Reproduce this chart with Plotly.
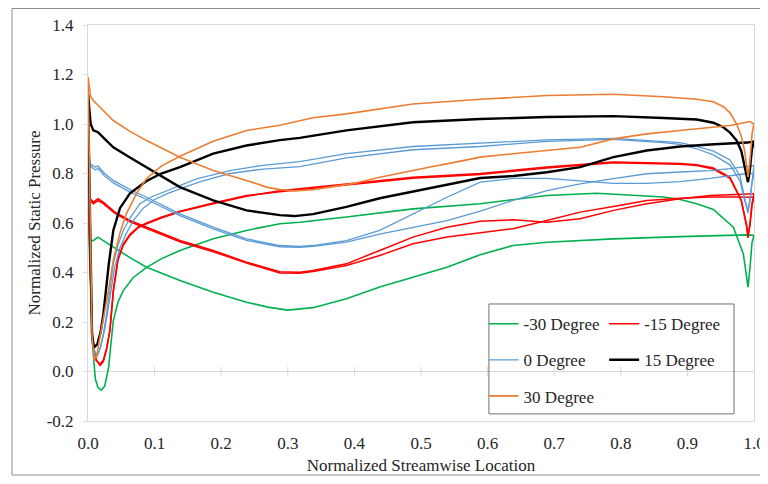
import plotly.graph_objects as go

# ---------------- data ----------------
x_ticks = [0.0, 0.1, 0.2, 0.3, 0.4, 0.5, 0.6, 0.7, 0.8, 0.9, 1.0]
y_ticks = [-0.2, 0.0, 0.2, 0.4, 0.6, 0.8, 1.0, 1.2, 1.4]
series_names = ["-30 Degree", "-15 Degree", "0 Degree", "15 Degree", "30 Degree"]

# -30 Degree
x_m30_p = [0.000, 0.003, 0.008, 0.015, 0.023, 0.038, 0.063, 0.088, 0.138, 0.188, 0.238, 0.270, 0.288, 0.300,
           0.338, 0.388, 0.438, 0.488, 0.539, 0.589, 0.638, 0.689, 0.789, 0.889, 0.934, 0.990, 1.000]
y_m30_p = [0.72, 0.53, 0.529, 0.543, 0.529, 0.502, 0.46, 0.421, 0.368, 0.320, 0.28, 0.26, 0.253, 0.248,
           0.258, 0.294, 0.341, 0.381, 0.421, 0.472, 0.509, 0.522, 0.536, 0.545, 0.549, 0.552, 0.55]
x_m30_s = [0.000, 0.003, 0.007, 0.011, 0.015, 0.020, 0.025, 0.029, 0.031, 0.034, 0.038, 0.045, 0.053, 0.068,
           0.088, 0.110, 0.138, 0.188, 0.238, 0.288, 0.318, 0.388, 0.488, 0.589, 0.689, 0.764, 0.839, 0.864,
           0.889, 0.914, 0.939, 0.969, 0.984, 0.991, 0.994, 0.997, 1.000]
y_m30_s = [0.72, 0.40, 0.10, -0.03, -0.065, -0.075, -0.06, -0.01, 0.017, 0.10, 0.206, 0.28, 0.327, 0.38,
           0.421, 0.455, 0.489, 0.536, 0.570, 0.597, 0.603, 0.624, 0.657, 0.678, 0.711, 0.72, 0.711, 0.705,
           0.695, 0.678, 0.655, 0.583, 0.475, 0.341, 0.42, 0.52, 0.55]

# -15 Degree
x_m15_pa = [0.000, 0.003, 0.008, 0.015, 0.023, 0.040, 0.063, 0.088, 0.138, 0.188, 0.238, 0.288, 0.318, 0.338,
            0.388, 0.438, 0.488, 0.539, 0.589, 0.638, 0.689, 0.739, 0.789, 0.839, 0.889, 0.934, 0.964, 0.990, 1.000]
y_m15_pa = [0.83, 0.70, 0.684, 0.698, 0.684, 0.645, 0.61, 0.583, 0.529, 0.489, 0.442, 0.403, 0.401, 0.408,
            0.435, 0.489, 0.543, 0.583, 0.607, 0.613, 0.603, 0.617, 0.651, 0.678, 0.698, 0.711, 0.715, 0.718, 0.718]
x_m15_pb = [0.000, 0.003, 0.008, 0.015, 0.023, 0.040, 0.063, 0.088, 0.138, 0.188, 0.238, 0.288, 0.318, 0.338,
            0.388, 0.438, 0.488, 0.539, 0.589, 0.638, 0.689, 0.739, 0.789, 0.839, 0.889, 0.934, 0.964, 0.990, 1.000]
y_m15_pb = [0.83, 0.69, 0.678, 0.69, 0.678, 0.64, 0.605, 0.578, 0.524, 0.484, 0.438, 0.398, 0.397, 0.404,
            0.428, 0.469, 0.516, 0.543, 0.56, 0.577, 0.61, 0.644, 0.667, 0.691, 0.70, 0.705, 0.705, 0.704, 0.704]
x_m15_sa = [0.000, 0.003, 0.007, 0.012, 0.018, 0.023, 0.028, 0.033, 0.038, 0.045, 0.053, 0.063, 0.075, 0.088,
            0.110, 0.138, 0.188, 0.238, 0.288, 0.318, 0.388, 0.488, 0.589, 0.689, 0.789, 0.864, 0.889, 0.914,
            0.939, 0.964, 0.981, 0.989, 0.991, 0.994, 0.997, 1.000]
y_m15_sa = [0.83, 0.45, 0.12, 0.05, 0.024, 0.04, 0.09, 0.166, 0.32, 0.45, 0.51, 0.55, 0.58, 0.597,
            0.62, 0.645, 0.678, 0.708, 0.73, 0.738, 0.758, 0.785, 0.80, 0.826, 0.846, 0.843, 0.84, 0.835,
            0.822, 0.785, 0.691, 0.583, 0.54, 0.60, 0.68, 0.718]
x_m15_sb = [0.000, 0.003, 0.007, 0.012, 0.018, 0.023, 0.028, 0.033, 0.038, 0.045, 0.053, 0.063, 0.075, 0.088,
            0.110, 0.138, 0.188, 0.238, 0.288, 0.318, 0.388, 0.488, 0.589, 0.689, 0.789, 0.864, 0.889, 0.914,
            0.939, 0.964, 0.981, 0.989, 0.991, 0.994, 0.997, 1.000]
y_m15_sb = [0.83, 0.44, 0.11, 0.045, 0.03, 0.045, 0.095, 0.17, 0.33, 0.455, 0.515, 0.555, 0.583, 0.60,
            0.623, 0.648, 0.681, 0.711, 0.726, 0.734, 0.754, 0.781, 0.796, 0.822, 0.843, 0.84, 0.837, 0.832,
            0.818, 0.78, 0.69, 0.59, 0.55, 0.59, 0.67, 0.704]

# 0 Degree
x_0_pa = [0.000, 0.003, 0.008, 0.011, 0.015, 0.025, 0.038, 0.063, 0.088, 0.138, 0.188, 0.238, 0.288, 0.318,
          0.338, 0.388, 0.438, 0.488, 0.539, 0.589, 0.639, 0.689, 0.739, 0.789, 0.839, 0.889, 0.934, 0.964, 0.990, 1.000]
y_0_pa = [0.93, 0.84, 0.83, 0.826, 0.83, 0.80, 0.772, 0.735, 0.704, 0.637, 0.583, 0.536, 0.509, 0.505,
          0.509, 0.529, 0.570, 0.637, 0.704, 0.765, 0.78, 0.78, 0.77, 0.76, 0.76, 0.767, 0.78, 0.79, 0.80, 0.80]
x_0_pb = [0.000, 0.003, 0.008, 0.011, 0.015, 0.025, 0.038, 0.063, 0.088, 0.138, 0.188, 0.238, 0.288, 0.318,
          0.338, 0.388, 0.438, 0.488, 0.539, 0.589, 0.638, 0.689, 0.739, 0.789, 0.839, 0.889, 0.934, 0.964, 0.990, 1.000]
y_0_pb = [0.93, 0.83, 0.82, 0.815, 0.82, 0.79, 0.762, 0.725, 0.695, 0.630, 0.576, 0.530, 0.504, 0.502,
          0.506, 0.523, 0.555, 0.583, 0.61, 0.648, 0.691, 0.731, 0.758, 0.779, 0.799, 0.806, 0.812, 0.82, 0.83, 0.832]
x_0_sa = [0.000, 0.003, 0.006, 0.010, 0.013, 0.018, 0.023, 0.028, 0.033, 0.038, 0.045, 0.053, 0.063, 0.078,
          0.095, 0.113, 0.138, 0.163, 0.213, 0.263, 0.318, 0.388, 0.488, 0.589, 0.689, 0.789, 0.864, 0.889,
          0.914, 0.939, 0.964, 0.979, 0.986, 0.991, 0.994, 0.997, 1.000]
y_0_sa = [0.93, 0.50, 0.15, 0.07, 0.058, 0.09, 0.15, 0.233, 0.34, 0.435, 0.51, 0.570, 0.62, 0.678,
          0.705, 0.725, 0.752, 0.778, 0.812, 0.833, 0.848, 0.880, 0.909, 0.923, 0.936, 0.942, 0.93, 0.925,
          0.91, 0.89, 0.855, 0.79, 0.70, 0.64, 0.69, 0.76, 0.80]
x_0_sb = [0.000, 0.003, 0.006, 0.011, 0.015, 0.020, 0.025, 0.030, 0.035, 0.040, 0.048, 0.058, 0.068, 0.083,
          0.100, 0.120, 0.145, 0.170, 0.213, 0.263, 0.318, 0.388, 0.488, 0.589, 0.689, 0.789, 0.864, 0.889,
          0.914, 0.939, 0.964, 0.979, 0.986, 0.991, 0.994, 0.997, 1.000]
y_0_sb = [0.93, 0.45, 0.12, 0.075, 0.07, 0.11, 0.17, 0.25, 0.34, 0.42, 0.50, 0.56, 0.61, 0.66,
          0.695, 0.72, 0.745, 0.768, 0.80, 0.818, 0.828, 0.863, 0.896, 0.909, 0.93, 0.938, 0.925, 0.918,
          0.90, 0.875, 0.835, 0.77, 0.69, 0.65, 0.70, 0.78, 0.832]

# 15 Degree
x_15_p = [0.000, 0.004, 0.008, 0.015, 0.025, 0.038, 0.063, 0.088, 0.138, 0.188, 0.238, 0.288, 0.310, 0.338,
          0.388, 0.438, 0.488, 0.539, 0.589, 0.639, 0.689, 0.739, 0.789, 0.839, 0.889, 0.934, 0.964, 0.990, 1.000]
y_15_p = [1.12, 1.00, 0.974, 0.967, 0.94, 0.906, 0.865, 0.826, 0.745, 0.691, 0.651, 0.632, 0.628, 0.636,
          0.665, 0.700, 0.728, 0.755, 0.782, 0.79, 0.805, 0.826, 0.866, 0.893, 0.909, 0.917, 0.92, 0.925, 0.93]
x_15_s = [0.000, 0.003, 0.006, 0.009, 0.014, 0.019, 0.023, 0.031, 0.038, 0.048, 0.063, 0.088, 0.110, 0.138,
          0.188, 0.238, 0.288, 0.318, 0.388, 0.488, 0.589, 0.689, 0.789, 0.864, 0.914, 0.939, 0.954, 0.964,
          0.974, 0.981, 0.986, 0.991, 0.994, 0.997, 1.000]
y_15_s = [1.12, 0.60, 0.15, 0.098, 0.11, 0.16, 0.23, 0.43, 0.57, 0.66, 0.72, 0.77, 0.80, 0.826,
          0.88, 0.913, 0.935, 0.944, 0.974, 1.007, 1.02, 1.028, 1.032, 1.024, 1.018, 1.005, 0.987, 0.965,
          0.933, 0.89, 0.83, 0.765, 0.82, 0.90, 0.93]

# 30 Degree
x_30_p = [0.000, 0.004, 0.008, 0.018, 0.038, 0.063, 0.088, 0.138, 0.188, 0.238, 0.268, 0.288, 0.310, 0.338,
          0.363, 0.400, 0.438, 0.488, 0.514, 0.550, 0.589, 0.638, 0.689, 0.739, 0.789, 0.839, 0.889, 0.934,
          0.964, 0.985, 0.994, 1.000]
y_30_p = [1.19, 1.11, 1.095, 1.068, 1.014, 0.97, 0.933, 0.866, 0.812, 0.772, 0.745, 0.735, 0.73, 0.735,
          0.745, 0.76, 0.785, 0.81, 0.826, 0.845, 0.866, 0.88, 0.893, 0.906, 0.94, 0.96, 0.974, 0.985,
          0.994, 1.005, 1.01, 1.00]
x_30_s = [0.000, 0.003, 0.006, 0.009, 0.013, 0.018, 0.023, 0.031, 0.038, 0.048, 0.058, 0.073, 0.088, 0.110,
          0.138, 0.188, 0.238, 0.288, 0.338, 0.388, 0.488, 0.589, 0.689, 0.789, 0.864, 0.914, 0.939, 0.954,
          0.964, 0.974, 0.981, 0.986, 0.991, 0.994, 0.997, 1.000]
y_30_s = [1.19, 0.70, 0.15, 0.05, 0.06, 0.14, 0.21, 0.33, 0.45, 0.56, 0.64, 0.72, 0.78, 0.83,
          0.87, 0.93, 0.974, 0.995, 1.025, 1.041, 1.081, 1.10, 1.115, 1.12, 1.11, 1.10, 1.09, 1.07,
          1.045, 1.00, 0.95, 0.89, 0.785, 0.85, 0.96, 1.00]

# ---------------- figure ----------------
FONT = "Liberation Serif"
TXT = "#262626"
FS = 17

curves = [
    ("-30 Degree", "#00B050", 1.6, "legend", [(x_m30_p, y_m30_p), (x_m30_s, y_m30_s)]),
    ("-15 Degree", "#FF0000", 1.5, "legend2", [(x_m15_pa, y_m15_pa), (x_m15_pb, y_m15_pb),
                                                (x_m15_sa, y_m15_sa), (x_m15_sb, y_m15_sb)]),
    ("0 Degree", "#5B9BD5", 1.3, "legend", [(x_0_pa, y_0_pa), (x_0_pb, y_0_pb),
                                             (x_0_sa, y_0_sa), (x_0_sb, y_0_sb)]),
    ("15 Degree", "#000000", 2.4, "legend2", [(x_15_p, y_15_p), (x_15_s, y_15_s)]),
    ("30 Degree", "#ED7D31", 1.6, "legend", [(x_30_p, y_30_p), (x_30_s, y_30_s)]),
]

fig = go.Figure()
for name, color, width, leg, parts in curves:
    for i, (xs, ys) in enumerate(parts):
        fig.add_trace(go.Scatter(
            x=xs, y=ys, mode="lines", name=name,
            line=dict(color=color, width=width),
            legendgroup=name, showlegend=(i == 0), legend=leg,
            hoverinfo="skip",
        ))

axis_common = dict(
    showgrid=False, showline=True, linecolor="#D9D9D9", linewidth=1, mirror=True,
    automargin=False,
    tickfont=dict(family=FONT, size=FS, color=TXT),
    title_font=dict(family=FONT, size=FS, color=TXT),
)

fig.update_layout(
    width=760, height=468,
    margin=dict(l=80, r=14, t=17, b=55),
    paper_bgcolor="white", plot_bgcolor="white",
    font=dict(family=FONT, size=FS, color=TXT),
    xaxis=dict(range=[0, 1.0], tickvals=x_ticks, ticktext=[f"{v:.1f}" for v in x_ticks],
               ticks="", ticklabelstandoff=7,
               title=dict(text="Normalized Streamwise Location", standoff=6),
               zeroline=False, **axis_common),
    yaxis=dict(range=[-0.2, 1.4], tickvals=y_ticks, ticktext=[f"{v:.1f}" for v in y_ticks],
               ticks="outside", ticklen=4, tickcolor="#D9D9D9", ticklabelstandoff=6,
               title=dict(text="Normalized Static Pressure", standoff=1),
               zeroline=True, zerolinecolor="#D9D9D9", zerolinewidth=1, **axis_common),
    legend=dict(x=0.594, y=0.29, xanchor="left", yanchor="top", bgcolor="rgba(0,0,0,0)",
                borderwidth=0, tracegroupgap=11, itemwidth=30,
                font=dict(family=FONT, size=FS, color=TXT)),
    legend2=dict(x=0.775, y=0.29, xanchor="left", yanchor="top", bgcolor="rgba(0,0,0,0)",
                 borderwidth=0, tracegroupgap=11, itemwidth=30,
                 font=dict(family=FONT, size=FS, color=TXT)),
    showlegend=True,
)

# crossing tick marks on the x axis line at y = 0
for t in x_ticks[1:-1]:
    fig.add_shape(type="line", xref="x", yref="y", x0=t, x1=t, y0=-0.02, y1=0.02,
                  line=dict(color="#D9D9D9", width=1), layer="above")
# legend frame
fig.add_shape(type="rect", xref="paper", yref="paper", x0=0.602, x1=0.970, y0=0.018, y1=0.2955,
              line=dict(color="#707070", width=1), layer="above")
# chart outer border
fig.add_shape(type="rect", xref="paper", yref="paper", x0=-0.1141, x1=1.0165, y0=-0.1364, y1=1.0417,
              line=dict(color="#8C8C8C", width=1), layer="above")

fig.write_html("out.html")
